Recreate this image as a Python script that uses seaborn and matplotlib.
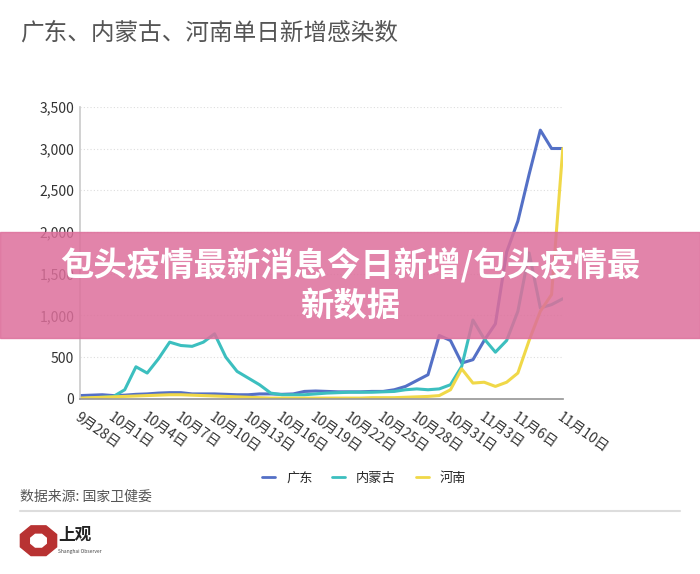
import numpy as np
import pandas as pd
import matplotlib
matplotlib.use("Agg")
import matplotlib.pyplot as plt
from matplotlib.ticker import FuncFormatter
from matplotlib.patches import RegularPolygon
import seaborn as sns

dates = pd.date_range("2022-09-28", "2022-11-10", freq="D")

guangdong = [40, 45, 50, 40, 45, 55, 60, 70, 75, 75, 60, 60, 60, 55, 50, 50, 60, 60, 55, 60,
             90, 95, 90, 85, 85, 85, 90, 90, 110, 150, 220, 290, 760, 700, 430, 470, 700, 900,
             1760, 2130, 2690, 3220, 3000, 3000]
neimenggu = [0, 10, 20, 30, 110, 385, 310, 480, 680, 640, 630, 680, 780, 500, 330, 250, 170, 70,
             50, 50, 50, 60, 70, 75, 80, 80, 80, 85, 90, 110, 120, 110, 120, 170, 390, 945, 720,
             560, 700, 1050, 1750, 1090, 1130, 1200]
henan = [10, 15, 20, 25, 30, 35, 40, 45, 50, 50, 45, 40, 35, 30, 25, 20, 15, 10, 10, 10,
         10, 10, 10, 10, 10, 10, 15, 15, 15, 20, 25, 30, 40, 110, 360, 190, 200, 150, 200, 310,
         700, 1050, 1250, 3000]

series_names = ["广东", "内蒙古", "河南"]
colors = ["#5470c6", "#3cbfbf", "#f0d848"]
tick_labels = ["9月28日", "10月1日", "10月4日", "10月7日", "10月10日", "10月13日", "10月16日",
               "10月19日", "10月22日", "10月25日", "10月28日", "10月31日", "11月3日", "11月6日", "11月10日"]
tick_days = [0, 3, 6, 9, 12, 15, 18, 21, 24, 27, 30, 33, 36, 39, 43]

df = pd.DataFrame({"day": np.arange(len(dates)), "广东": guangdong, "内蒙古": neimenggu, "河南": henan})
long = df.melt(id_vars="day", var_name="省份", value_name="新增")

sns.set_theme(style="white")
plt.rcParams["font.family"] = ["Noto Sans CJK SC", "DejaVu Sans"]

fig = plt.figure(figsize=(7, 5.74), dpi=100)
ax = fig.add_axes([0.114, 0.305, 0.69, 0.509])
sns.lineplot(data=long, x="day", y="新增", hue="省份", hue_order=series_names,
             palette=colors, linewidth=2.2, ax=ax, legend=False)

ax.set_xlim(0, 43)
ax.set_ylim(0, 3500)
ax.set_yticks(range(0, 3501, 500))
ax.yaxis.set_major_formatter(FuncFormatter(lambda v, _: f"{v:,.0f}"))
ax.set_xticks(tick_days)
ax.set_xticklabels(tick_labels, rotation=-35, ha="left", rotation_mode="anchor")
ax.tick_params(axis="both", labelsize=10, colors="#333333", length=0, pad=4)
ax.tick_params(axis="x", length=4, color="#999999")
ax.set_xlabel("")
ax.set_ylabel("")
ax.grid(axis="y", linestyle=(0, (1, 2)), color="#dddddd", linewidth=0.8)
for s in ["top", "right"]:
    ax.spines[s].set_visible(False)
ax.spines["left"].set_color("#cccccc")
ax.spines["bottom"].set_color("#999999")

fig.text(0.029, 0.943, "广东、内蒙古、河南单日新增感染数", fontsize=17, color="#555555", va="center")

handles = [plt.Line2D([], [], color=c, lw=2) for c in colors]
fig.legend(handles, series_names, loc="center", bbox_to_anchor=(0.52, 0.167), ncol=3,
           frameon=False, fontsize=9.5, handlelength=1.0, columnspacing=1.5)

fig.text(0.029, 0.134, "数据来源: 国家卫健委", fontsize=10, color="#555555", va="center")
fig.add_artist(plt.Line2D([0.029, 0.971], [0.11, 0.11], color="#dddddd", lw=1.5))

fig.add_artist(RegularPolygon((0.055, 0.058), 8, radius=0.028, color="#b83232",
                              transform=fig.transFigure, orientation=np.pi / 8))
fig.add_artist(RegularPolygon((0.055, 0.058), 8, radius=0.012, color="white",
                              transform=fig.transFigure, orientation=np.pi / 8))
fig.text(0.083, 0.068, "上观", fontsize=12, color="#222222", va="center", fontweight="bold")
fig.text(0.083, 0.04, "Shanghai Observer", fontsize=3.5, color="#444444", va="center")

# pink banner overlay
fig.add_artist(plt.Rectangle((0, 0.411), 1, 0.185, transform=fig.transFigure,
                             color="#dd6f9b", alpha=0.85, zorder=10))
fig.text(0.5, 0.503, "包头疫情最新消息今日新增/包头疫情最\n新数据", fontsize=24, color="white",
         fontweight="bold", ha="center", va="center", linespacing=1.25, zorder=11)

fig.savefig("out.png", dpi=100)
